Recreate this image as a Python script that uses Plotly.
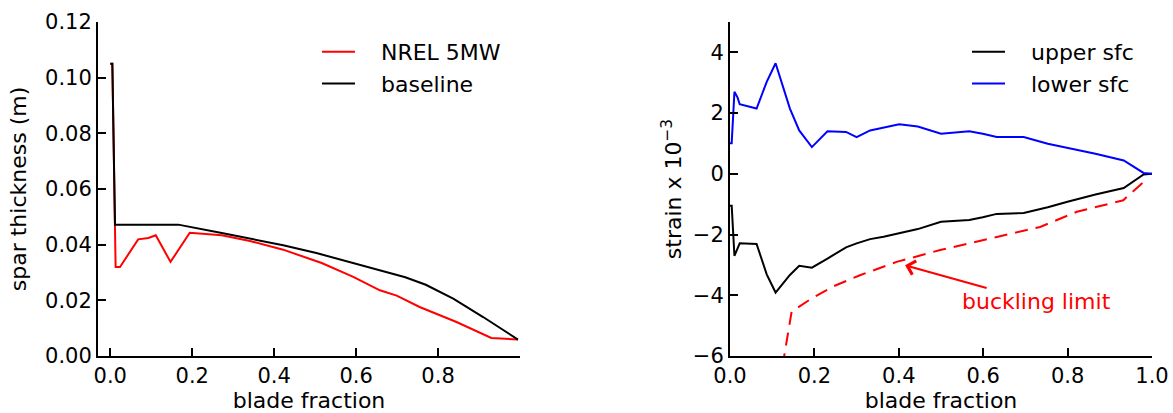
import plotly.graph_objects as go

# ---- left panel: spar thickness ----
nrel_x = [0.0, 0.005, 0.013, 0.0237, 0.068, 0.093, 0.111, 0.147, 0.194, 0.272, 0.341,
          0.422, 0.516, 0.593, 0.658, 0.699, 0.755, 0.845, 0.930, 0.995]
nrel_y = [0.105, 0.105, 0.032, 0.032, 0.0419, 0.0424, 0.0434, 0.0338, 0.0443, 0.0434,
          0.0413, 0.0382, 0.0334, 0.0284, 0.0236, 0.0217, 0.0176, 0.0122, 0.0065, 0.0059]

base_x = [0.0, 0.005, 0.0115, 0.166, 0.272, 0.341, 0.422, 0.503, 0.585, 0.666, 0.72,
          0.77, 0.837, 0.910, 0.995]
base_y = [0.105, 0.105, 0.0472, 0.0472, 0.0442, 0.0422, 0.0398, 0.0370, 0.0338, 0.0304,
          0.0283, 0.0256, 0.0206, 0.0140, 0.0059]

# ---- right panel: strain ----
st_x = [0.0, 0.004, 0.0105, 0.018, 0.023, 0.063, 0.087, 0.108, 0.142, 0.164, 0.194,
        0.231, 0.275, 0.300, 0.332, 0.364, 0.401, 0.445, 0.500, 0.567, 0.599, 0.632,
        0.696, 0.753, 0.802, 0.866, 0.933, 0.980, 1.0]
upper_y = [-1.05, -1.05, -2.70, -2.48, -2.29, -2.31, -3.31, -3.91, -3.33, -3.03, -3.09,
           -2.79, -2.42, -2.29, -2.15, -2.07, -1.95, -1.82, -1.58, -1.52, -1.43, -1.32,
           -1.29, -1.10, -0.91, -0.68, -0.47, -0.02, 0.0]
lower_y = [1.01, 1.01, 2.70, 2.51, 2.29, 2.15, 3.03, 3.64, 2.15, 1.43, 0.88,
           1.40, 1.38, 1.21, 1.43, 1.52, 1.63, 1.56, 1.32, 1.40, 1.32, 1.21,
           1.21, 0.99, 0.85, 0.66, 0.44, 0.03, 0.0]

buck_x = [0.108, 0.146, 0.194, 0.246, 0.308, 0.395, 0.498, 0.616, 0.735, 0.822,
          0.932, 0.940, 0.987]
buck_y = [-7.7, -4.54, -4.10, -3.70, -3.34, -2.90, -2.51, -2.13, -1.75, -1.25,
          -0.87, -0.76, -0.19]

left_names = ["NREL 5MW", "baseline"]
right_names = ["upper sfc", "lower sfc"]

left_xticks = [0.0, 0.2, 0.4, 0.6, 0.8]
left_yticks = [0.0, 0.02, 0.04, 0.06, 0.08, 0.10, 0.12]
right_xticks = [0.0, 0.2, 0.4, 0.6, 0.8, 1.0]
right_yticks = [-6, -4, -2, 0, 2, 4]

FONT = "DejaVu Sans"
W, H = 1173, 413
PAD = "\u00a0\u00a0\u00a0"  # gap between legend key and label


def lname(s):
    return PAD + s


fig = go.Figure()
fig.add_trace(go.Scatter(x=nrel_x, y=nrel_y, mode="lines", name=lname(left_names[0]),
                         line=dict(color="#ff0000", width=2), xaxis="x", yaxis="y",
                         legend="legend", legendgroup="a"))
fig.add_trace(go.Scatter(x=base_x, y=base_y, mode="lines", name=lname(left_names[1]),
                         line=dict(color="#000000", width=2), xaxis="x", yaxis="y",
                         legend="legend", legendgroup="b"))
fig.add_trace(go.Scatter(x=st_x, y=upper_y, mode="lines", name=lname(right_names[0]),
                         line=dict(color="#000000", width=2), xaxis="x2", yaxis="y2",
                         legend="legend2", legendgroup="c"))
fig.add_trace(go.Scatter(x=st_x, y=lower_y, mode="lines", name=lname(right_names[1]),
                         line=dict(color="#0000ff", width=2), xaxis="x2", yaxis="y2",
                         legend="legend2", legendgroup="d"))
fig.add_trace(go.Scatter(x=buck_x, y=buck_y, mode="lines", name="buckling limit",
                         showlegend=False,
                         line=dict(color="#ff0000", width=2, dash="13px,8px"),
                         xaxis="x2", yaxis="y2"))

axis_common = dict(showline=True, linecolor="black", linewidth=2, ticks="inside",
                   ticklen=8, tickwidth=1.5, tickcolor="black", showgrid=False,
                   zeroline=False, automargin=False,
                   tickfont=dict(family=FONT, size=21, color="black"))

yd = [(H - 356) / H, (H - 22) / H]
legend_common = dict(xanchor="left", yanchor="top", bgcolor="rgba(0,0,0,0)",
                     font=dict(family=FONT, size=22), traceorder="grouped",
                     tracegroupgap=0, itemwidth=33)
fig.update_layout(
    width=W, height=H, margin=dict(l=0, r=0, t=0, b=0),
    paper_bgcolor="white", plot_bgcolor="white",
    font=dict(family=FONT, size=22, color="black"),
    xaxis=dict(domain=[98 / W, 520 / W], range=[-0.03, 1.0], anchor="y",
               tickvals=left_xticks, ticktext=[f"{v:.1f}" for v in left_xticks],
               title=dict(text="blade fraction", font=dict(size=22), standoff=8),
               **axis_common),
    yaxis=dict(domain=yd, range=[0, 0.12], anchor="x",
               tickvals=left_yticks, ticktext=[f"{v:.2f}" for v in left_yticks],
               title=dict(text="spar thickness (m)", font=dict(size=22), standoff=12),
               **axis_common),
    xaxis2=dict(domain=[730 / W, 1152 / W], range=[0, 1.0], anchor="y2",
                tickvals=right_xticks, ticktext=[f"{v:.1f}" for v in right_xticks],
                title=dict(text="blade fraction", font=dict(size=22), standoff=8),
                **axis_common),
    yaxis2=dict(domain=yd, range=[-6, 5], anchor="x2",
                tickvals=right_yticks, ticktext=[str(v).replace("-", "\u2212") for v in right_yticks],
                title=dict(text="strain x 10<sup>\u22123</sup>", font=dict(size=22), standoff=5),
                **axis_common),
    legend=dict(x=(322 - 5) / W, y=1 - 31 / H, **legend_common),
    legend2=dict(x=(972 - 5) / W, y=1 - 31 / H, **legend_common),
    showlegend=True,
)

fig.add_annotation(x=0.415, y=-3.01, xref="x2", yref="y2",
                   ax=0.727, ay=-4.22, axref="x2", ayref="y2",
                   text="buckling limit", showarrow=True, arrowhead=4,
                   arrowsize=1.4, arrowwidth=2, arrowcolor="#ff0000",
                   font=dict(family=FONT, size=22, color="#ff0000"))

fig.write_html("out.html")
